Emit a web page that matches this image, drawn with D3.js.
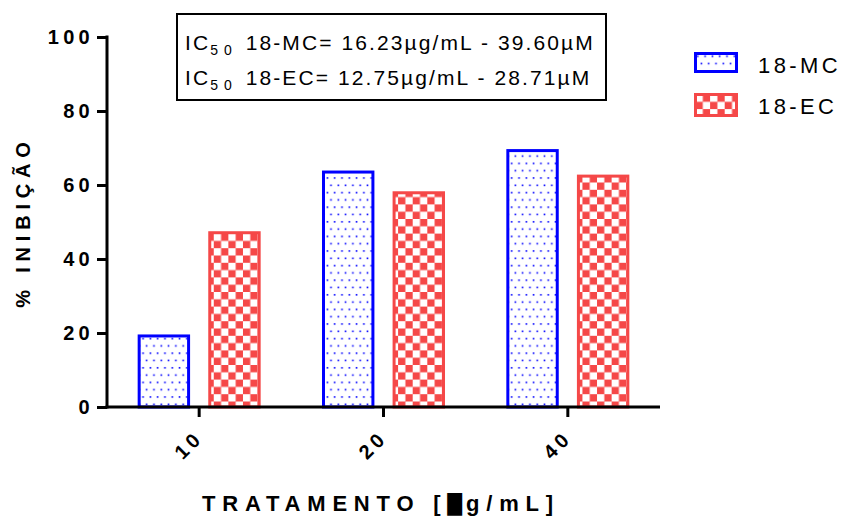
<!DOCTYPE html>
<html>
<head>
<meta charset="utf-8">
<script src="https://cdn.jsdelivr.net/npm/d3@7"></script>
<style>
  body { margin: 0; background: #fff; }
  text { font-family: "Liberation Sans", Arial, sans-serif; }
</style>
</head>
<body>
<svg width="844" height="517"></svg>
<script>
// data
var doses = ["10", "20", "40"];
var series = ["18-MC", "18-EC"];
var valuesMC = [19.2, 63.5, 69.3];
var valuesEC = [47.1, 57.9, 62.4];
var yTicks = [0, 20, 40, 60, 80, 100];
var icLines = [
    { name: "18-MC", text: " 18-MC= 16.23\u00b5g/mL - 39.60\u00b5M" },
    { name: "18-EC", text: " 18-EC= 12.75\u00b5g/mL - 28.71\u00b5M" }
];

var svg = d3.select("svg"),
    margin = { left: 107, right: 184, top: 37, bottom: 110 },
    width = +svg.attr("width"),
    height = +svg.attr("height");

var blue = "#0000ff",
    red = "#f54848";

var defs = svg.append("defs");

// dotted pattern for 18-MC
var dots = defs.append("pattern")
    .attr("id", "dots")
    .attr("patternUnits", "userSpaceOnUse")
    .attr("width", 7.3).attr("height", 14.6);
dots.append("rect").attr("width", 7.3).attr("height", 14.6).attr("fill", "#fff");
dots.append("rect").attr("x", 1.5).attr("y", 2).attr("width", 1.6).attr("height", 1.6).attr("fill", blue);
dots.append("rect").attr("x", 5.1).attr("y", 9.3).attr("width", 1.6).attr("height", 1.6).attr("fill", blue);

// checker pattern for 18-EC
var checks = defs.append("pattern")
    .attr("id", "checks")
    .attr("patternUnits", "userSpaceOnUse")
    .attr("width", 14.6).attr("height", 14.6);
checks.append("rect").attr("width", 14.6).attr("height", 14.6).attr("fill", red);
checks.append("rect").attr("x", 0).attr("y", 0).attr("width", 7.3).attr("height", 7.3).attr("fill", "#fff");
checks.append("rect").attr("x", 7.3).attr("y", 7.3).attr("width", 7.3).attr("height", 7.3).attr("fill", "#fff");

var fills = { "18-MC": "url(#dots)", "18-EC": "url(#checks)" };
var strokes = { "18-MC": blue, "18-EC": red };

var x = d3.scaleBand()
    .domain(doses)
    .range([margin.left, width - margin.right]);

var xSub = d3.scaleBand()
    .domain(series)
    .range([-60, 60])
    .paddingInner(0.3);

var y = d3.scaleLinear()
    .domain([0, 100])
    .range([height - margin.bottom, margin.top]);

var rows = doses.map(function (d, i) {
    return { dose: d, values: [
        { key: "18-MC", value: valuesMC[i] },
        { key: "18-EC", value: valuesEC[i] }
    ] };
});

// bars
var group = svg.append("g").selectAll("g")
    .data(rows)
    .enter().append("g")
    .attr("transform", function (d) {
        return "translate(" + (x(d.dose) + x.bandwidth() / 2) + ",0)";
    });

group.selectAll("rect")
    .data(function (d) { return d.values; })
    .enter().append("rect")
    .attr("x", function (d) { return xSub(d.key); })
    .attr("width", xSub.bandwidth())
    .attr("y", function (d) { return y(d.value); })
    .attr("height", function (d) { return y(0) - y(d.value); })
    .attr("fill", function (d) { return fills[d.key]; })
    .attr("stroke", function (d) { return strokes[d.key]; })
    .attr("stroke-width", 3);

// y axis
var yAxis = svg.append("g")
    .attr("transform", "translate(" + margin.left + ",0)")
    .call(d3.axisLeft(y).tickValues(yTicks).tickSize(10).tickPadding(3));

yAxis.select(".domain").attr("stroke-width", 3).attr("d",
    "M0," + (y(100) - 1.5) + "V" + (y(0) + 1.5));
yAxis.selectAll(".tick line").attr("stroke-width", 3);
yAxis.selectAll(".tick text")
    .attr("font-family", "Liberation Sans, Arial, sans-serif")
    .attr("font-size", 20)
    .attr("font-weight", "bold")
    .attr("letter-spacing", 4.3)
    .attr("fill", "#000");

// x axis
var xAxis = svg.append("g")
    .attr("transform", "translate(0," + y(0) + ")")
    .call(d3.axisBottom(x).tickSize(10).tickSizeOuter(0));

xAxis.select(".domain").attr("stroke-width", 3).attr("d",
    "M" + (margin.left - 1.5) + ",0H" + (width - margin.right));
xAxis.selectAll(".tick line").attr("stroke-width", 3);
xAxis.selectAll(".tick text")
    .attr("font-family", "Liberation Sans, Arial, sans-serif")
    .attr("font-size", 20)
    .attr("font-weight", "bold")
    .attr("letter-spacing", 4)
    .attr("fill", "#000")
    .attr("text-anchor", "end")
    .attr("x", 0).attr("y", 0)
    .attr("dy", null)
    .attr("transform", "translate(5,32) rotate(-45)");

// axis titles
svg.append("text")
    .attr("transform", "translate(29.5," + ((y(0) + y(100)) / 2) + ") rotate(-90)")
    .attr("text-anchor", "middle")
    .attr("font-size", 20)
    .attr("font-weight", "bold")
    .attr("letter-spacing", 5.8)
    .text("% INIBIÇÃO");

var xTitle = svg.append("text")
    .attr("x", 202)
    .attr("y", 511)
    .attr("font-size", 22)
    .attr("font-weight", "bold")
    .attr("letter-spacing", 6.8);
xTitle.append("tspan").text("TRATAMENTO [");
xTitle.append("tspan")
    .attr("font-family", "DejaVu Sans")
    .attr("font-size", 19)
    .attr("letter-spacing", 4)
    .text("\u2588");
xTitle.append("tspan").text("g/mL]");

// IC50 box
svg.append("rect")
    .attr("x", 177).attr("y", 14)
    .attr("width", 429).attr("height", 86)
    .attr("fill", "#fff")
    .attr("stroke", "#000")
    .attr("stroke-width", 2);

var ic = svg.append("g").selectAll("text")
    .data(icLines)
    .enter().append("text")
    .attr("x", 185)
    .attr("y", function (d, i) { return 49.5 + i * 35.5; })
    .attr("font-size", 21)
    .attr("letter-spacing", 2.1);

ic.append("tspan").text("IC");
ic.append("tspan")
    .attr("font-size", 14)
    .attr("dy", 5)
    .attr("letter-spacing", 6)
    .text("50");
ic.append("tspan")
    .attr("dy", -5)
    .text(function (d) { return d.text; });

// legend
var legend = svg.append("g").selectAll("g")
    .data(series)
    .enter().append("g")
    .attr("transform", function (d, i) { return "translate(695.5," + (53.5 + i * 41) + ")"; });

legend.append("rect")
    .attr("width", 41)
    .attr("height", function (d, i) { return i ? 21 : 18; })
    .attr("fill", function (d) { return fills[d]; })
    .attr("stroke", function (d) { return strokes[d]; })
    .attr("stroke-width", 3);

legend.append("text")
    .attr("x", 62.5)
    .attr("y", function (d, i) { return i ? 19.5 : 19.8; })
    .attr("font-size", 22)
    .attr("letter-spacing", 3.4)
    .text(function (d) { return d; });
</script>
</body>
</html>
